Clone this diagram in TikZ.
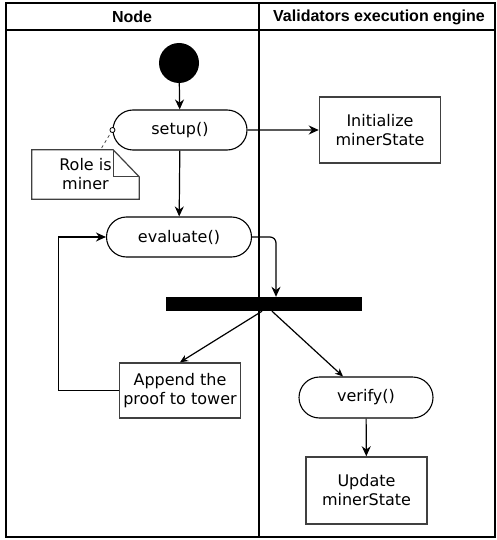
\documentclass[tikz,border=0pt]{standalone}
\usepackage{fontspec}
\setmainfont{DejaVu Sans}
\newfontfamily\headfont{Liberation Sans}
\usetikzlibrary{positioning, shapes.misc, arrows.meta}

\begin{document}
\begin{tikzpicture}[
        x=1pt, y=-1pt,
        >={Stealth[length=10pt, width=9pt]},
        every node/.style={font=\fontsize{16}{19}\selectfont, align=center},
        action/.style={rounded rectangle, draw, line width=1.1pt, inner sep=0pt},
        activity/.style={rectangle, draw=black!75, line width=1.5pt, inner sep=0pt},
        lane/.style={font=\headfont\bfseries\fontsize{16}{19}\selectfont},
        flow/.style={->, line width=1.2pt}]
        \useasboundingbox (0,0) rectangle (496,540);
        % Swimlanes
        \draw[line width=1.5pt] (6,3) rectangle (495,537);
        \draw[line width=1.2pt] (6,30) -- (495,30);
        \draw[line width=1.5pt] (259,3) -- (259,537);
        \node[lane] (node_lane) at (132,17) {Node};
        \node[lane] (engine_lane) at (379,17) {Validators execution engine};
        % States
        \node[circle, fill=black, minimum size=40pt, inner sep=0pt] (start) at (179,63) {};
        \node[action, minimum width=134pt, minimum height=40pt] (setup) at (180,130) {setup()};
        \node[action, minimum width=145pt, minimum height=40pt] (evaluate) at (179,237) {evaluate()};
        \node[activity, minimum width=121pt, minimum height=66pt] (init) at (380,130) {Initialize\\minerState};
        \node[rectangle, fill=black, minimum width=196pt, minimum height=14pt, inner sep=0pt] (bar) at (264,304) {};
        \node[activity, minimum width=121pt, minimum height=55pt] (append) at (180,390.5) {Append the\\proof to tower};
        \node[action, minimum width=134pt, minimum height=41pt] (verify) at (366,397.5) {verify()};
        \node[activity, minimum width=121pt, minimum height=67pt] (update) at (366.5,490.5) {Update\\minerState};
        % Note
        \node[minimum width=107pt, minimum height=49pt, inner sep=0pt] (note) at (85.5,174.5) {Role is\\miner};
        \draw[line width=1.2pt, draw=black!75] (note.north west) -- ([xshift=-26pt]note.north east)
            -- ([yshift=-27pt]note.north east) -- (note.south east) -- (note.south west) -- cycle;
        \draw[line width=1.2pt, draw=black!75] ([xshift=-26pt]note.north east) |- ([yshift=-27pt]note.north east);
        \draw[dashed, line width=0.8pt, draw=black!70] (setup.west) -- ([xshift=15pt]note.north);
        \draw[fill=white, line width=0.8pt] (setup.west) circle (2.5pt);
        % Edges
        \draw[flow] (start) -- (setup);
        \draw[flow] (setup) -- (evaluate);
        \draw[flow] (setup) -- (init);
        \draw[flow, rounded corners=6pt] (evaluate.east) -| ([xshift=12pt]bar.north);
        \draw[flow, >={Stealth[length=8pt, width=7pt]}] ([xshift=-2pt]bar.south) -- (append.north);
        \draw[flow, >={Stealth[length=8pt, width=7pt]}] ([xshift=8pt]bar.south) -- ([xshift=-23pt]verify.north);
        \draw[flow] (verify) -- (update);
        \draw[flow] (append.west) -- ++(-60,0) |- (evaluate.west);
\end{tikzpicture}
\end{document}
